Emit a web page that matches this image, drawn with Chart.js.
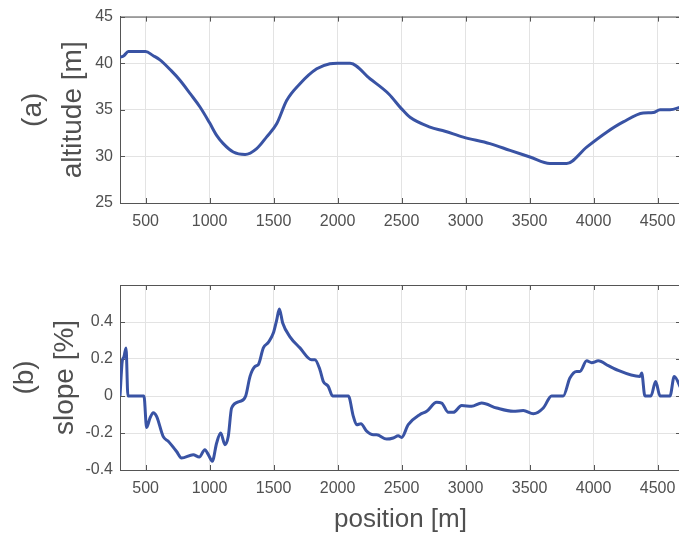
<!DOCTYPE html>
<html>
<head>
<meta charset="utf-8">
<script src="https://cdn.jsdelivr.net/npm/chart.js@4.4.1/dist/chart.umd.min.js"></script>
<style>
  body { margin: 0; overflow: hidden; background: #fff; }
  canvas { position: absolute; left: 0; }
</style>
</head>
<body>
<canvas id="altChart" width="690" height="245" style="top:0"></canvas>
<canvas id="slopeChart" width="690" height="292" style="top:245px"></canvas>
<script>
// altitude profile (a)
const altPos = [300, 330, 365, 500, 560, 612, 700, 770, 850, 925, 1000, 1055, 1105, 1185, 1277, 1368, 1446, 1524, 1602, 1706, 1837, 1940, 2000, 2097, 2253, 2400, 2500, 2566, 2722, 2839, 2982, 3190, 3347, 3503, 3659, 3790, 3946, 4102, 4232, 4388, 4466, 4519, 4597, 4683];
const altitude = [40.64, 40.8, 41.25, 41.25, 40.8, 40.36, 39.2, 38.15, 36.7, 35.3, 33.6, 32.26, 31.4, 30.47, 30.2, 30.83, 32.1, 33.5, 36.0, 37.8, 39.4, 39.94, 40.0, 40.0, 38.33, 36.7, 35.1, 34.2, 33.15, 32.7, 32.07, 31.37, 30.65, 29.94, 29.23, 29.23, 31.0, 32.6, 33.7, 34.65, 34.7, 35.0, 35.0, 35.3];

// slope (b)
const slopePos = [300, 318, 330, 347, 362, 487, 508, 534, 560, 586, 638, 677, 742, 781, 872, 919, 963, 990, 1021, 1055, 1087, 1120, 1146, 1172, 1237, 1282, 1316, 1355, 1381, 1420, 1459, 1498, 1524, 1545, 1571, 1628, 1706, 1797, 1823, 1862, 1888, 1927, 1961, 2084, 2123, 2149, 2182, 2227, 2279, 2305, 2383, 2435, 2474, 2500, 2552, 2644, 2696, 2774, 2813, 2865, 2904, 2969, 3047, 3125, 3243, 3373, 3451, 3529, 3607, 3672, 3763, 3815, 3868, 3893, 3946, 3985, 4037, 4115, 4167, 4362, 4376, 4401, 4448, 4485, 4519, 4597, 4630, 4683];
const slope = [0, 0.19, 0.21, 0.26, 0, 0, -0.17, -0.12, -0.09, -0.11, -0.22, -0.245, -0.30, -0.335, -0.317, -0.33, -0.29, -0.317, -0.353, -0.254, -0.2, -0.263, -0.218, -0.065, -0.029, 0, 0.106, 0.16, 0.17, 0.26, 0.29, 0.34, 0.41, 0.47, 0.395, 0.32, 0.26, 0.196, 0.196, 0.142, 0.079, 0.052, 0, 0, -0.11, -0.155, -0.15, -0.19, -0.21, -0.21, -0.233, -0.227, -0.215, -0.224, -0.155, -0.1, -0.083, -0.034, -0.038, -0.088, -0.088, -0.052, -0.056, -0.038, -0.065, -0.083, -0.078, -0.096, -0.065, 0, 0, 0.097, 0.133, 0.133, 0.19, 0.18, 0.19, 0.164, 0.146, 0.106, 0.124, 0, 0, 0.079, 0, 0, 0.106, 0.04];

const xTicks = [500, 1000, 1500, 2000, 2500, 3000, 3500, 4000, 4500];
const altTicks = [25, 30, 35, 40, 45];
const slopeTicks = [-0.4, -0.2, 0, 0.2, 0.4];

const lineColor = '#3953a4';
const axisColor = '#555555';
const gridColor = '#e3e3e3';
const textColor = '#505050';
const fontFamily = '"Liberation Sans", Arial, sans-serif';

// matlab style box: top border + inward ticks
const boxPlugin = {
    id: 'box',
    beforeDatasetsDraw(chart) {
        const { ctx, chartArea: a, scales: { x, y } } = chart;
        ctx.save();
        ctx.strokeStyle = axisColor;
        ctx.lineWidth = 1;
        ctx.beginPath();
        ctx.moveTo(a.left, a.top + 0.5);
        ctx.lineTo(a.right, a.top + 0.5);
        x.ticks.forEach(t => {
            const px = Math.round(x.getPixelForValue(t.value)) + 0.5;
            ctx.moveTo(px, a.bottom); ctx.lineTo(px, a.bottom - 5);
            ctx.moveTo(px, a.top); ctx.lineTo(px, a.top + 5);
        });
        y.ticks.forEach(t => {
            const py = Math.round(y.getPixelForValue(t.value)) + 0.5;
            ctx.moveTo(a.left, py); ctx.lineTo(a.left + 5, py);
            ctx.moveTo(a.right, py); ctx.lineTo(a.right - 5, py);
        });
        ctx.stroke();
        ctx.restore();
    }
};

function makeChart(id, xs, ys, yMin, yMax, yTickVals, yTitle, titlePad, xAxisHeight, topPad, showXTitle) {
    return new Chart(document.getElementById(id), {
        type: 'line',
        data: {
            datasets: [{
                data: xs.map((v, i) => ({ x: v, y: ys[i] })),
                borderColor: lineColor,
                borderWidth: 3,
                pointRadius: 0,
                cubicInterpolationMode: 'monotone',
                fill: false
            }]
        },
        options: {
            responsive: false,
            animation: false,
            layout: { padding: { top: topPad, right: 9, left: 0, bottom: 0 } },
            plugins: { legend: { display: false }, tooltip: { enabled: false } },
            scales: {
                x: {
                    type: 'linear',
                    min: 300,
                    max: 4683,
                    afterBuildTicks: s => { s.ticks = xTicks.map(v => ({ value: v })); },
                    afterFit: s => { s.height = xAxisHeight; },
                    grid: { color: gridColor, drawTicks: false },
                    border: { color: axisColor, width: 1 },
                    ticks: {
                        color: textColor,
                        padding: 9,
                        maxRotation: 0,
                        font: { family: fontFamily, size: 16 },
                        callback: v => String(v)
                    },
                    title: {
                        display: showXTitle,
                        text: 'position [m]',
                        color: textColor,
                        padding: { top: 0, bottom: 2 },
                        font: { family: fontFamily, size: 26 }
                    }
                },
                y: {
                    min: yMin,
                    max: yMax,
                    afterBuildTicks: s => { s.ticks = yTickVals.map(v => ({ value: v })); },
                    afterFit: s => { s.width = 120; },
                    grid: { color: gridColor, drawTicks: false },
                    border: { color: axisColor, width: 1 },
                    ticks: {
                        color: textColor,
                        padding: 7,
                        font: { family: fontFamily, size: 16 },
                        callback: v => (v === 0 ? '0' : String(Math.round(v * 10) / 10))
                    },
                    title: {
                        display: true,
                        text: yTitle,
                        color: textColor,
                        padding: { top: titlePad, bottom: 0 },
                        font: { family: fontFamily, size: 28, lineHeight: 1.43 }
                    }
                }
            }
        },
        plugins: [boxPlugin]
    });
}

makeChart('altChart', altPos, altitude, 25, 45, altTicks, ['(a)', 'altitude [m]'], 13, 42, 16, false);
makeChart('slopeChart', slopePos, slope, -0.4, 0.6, slopeTicks, ['(b)', 'slope [%]'], 5, 67, 40, true);
</script>
</body>
</html>
